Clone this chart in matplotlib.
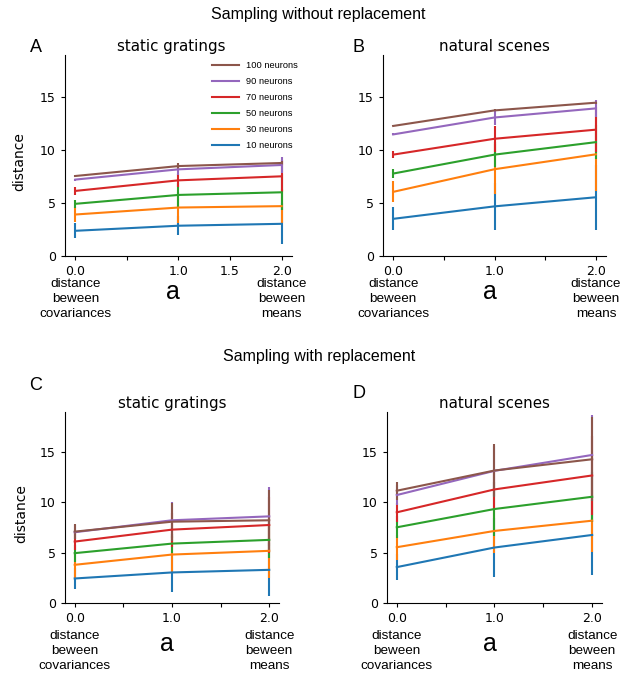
import matplotlib.pyplot as plt
from matplotlib.lines import Line2D

# a values
a_vals = [0.0, 1.0, 2.0]
labels = ['10 neurons', '30 neurons', '50 neurons', '70 neurons', '90 neurons', '100 neurons']
colors = ['C0', 'C1', 'C2', 'C3', 'C4', 'C5']

# sampling without replacement, static gratings
A_mean = [[2.38, 2.86, 3.04], [3.92, 4.58, 4.71], [4.93, 5.77, 6.02],
          [6.15, 7.15, 7.53], [7.22, 8.19, 8.60], [7.56, 8.50, 8.79]]
A_err = [[0.7, 0.9, 1.95], [0.7, 1.5, 1.6], [0.35, 1.1, 1.7],
         [0.4, 0.6, 1.5], [0.1, 0.5, 0.75], [0.1, 0.3, 0.2]]

# sampling without replacement, natural scenes
B_mean = [[3.51, 4.69, 5.55], [6.06, 8.20, 9.61], [7.79, 9.58, 10.76],
          [9.58, 11.08, 11.94], [11.49, 13.09, 13.95], [12.29, 13.76, 14.49]]
B_err = [[1.1, 2.2, 3.05], [1.0, 2.35, 3.5], [0.4, 1.2, 1.6],
         [0.3, 1.25, 2.1], [0.1, 0.7, 0.8], [0.05, 0.1, 0.1]]

# sampling with replacement, static gratings
C_mean = [[2.44, 3.04, 3.30], [3.80, 4.82, 5.19], [4.96, 5.91, 6.28],
          [6.11, 7.30, 7.76], [7.04, 8.23, 8.62], [7.10, 8.09, 8.23]]
C_err = [[1.05, 1.9, 2.65], [1.3, 1.85, 2.7], [0.85, 0.95, 1.8],
         [0.85, 1.7, 2.8], [0.7, 1.8, 2.9], [0.76, 1.9, 3.0]]

# sampling with replacement, natural scenes
D_mean = [[3.57, 5.52, 6.77], [5.55, 7.17, 8.19], [7.53, 9.35, 10.57],
          [9.02, 11.30, 12.69], [10.74, 13.15, 14.73], [11.17, 13.18, 14.30]]
D_err = [[1.3, 2.9, 4.0], [1.25, 2.2, 3.1], [1.1, 2.7, 2.5],
         [0.95, 1.9, 3.9], [1.0, 2.5, 4.0], [0.9, 2.65, 4.2]]

sans = 'Liberation Sans'
H = 677.0

fig = plt.figure(figsize=(6.23, 6.77), dpi=100)

axA = fig.add_axes([0.1043, 0.6219, 0.3644, 0.2969])
axB = fig.add_axes([0.6148, 0.6219, 0.3580, 0.2969])
axC = fig.add_axes([0.1043, 0.1093, 0.3435, 0.2821])
axD = fig.add_axes([0.6212, 0.1093, 0.3450, 0.2821])


def draw(ax, mean, err, title, ylabel, lab15, off, title_x=0.5):
    for i in range(len(mean)):
        ax.errorbar(a_vals, mean[i], yerr=err[i], color=colors[i], lw=1.5,
                    elinewidth=1.5, capsize=0)
    ax.set_xlim(-0.1, 2.1)
    ax.set_ylim(0, 19)
    ax.set_yticks([0, 5, 10, 15])
    ax.set_xticks([0, 0.5, 1, 1.5, 2])
    ax.set_xticklabels(['0.0', '', '1.0', '1.5' if lab15 else '', '2.0'])
    ax.tick_params(labelsize=9, length=3)
    ax.spines['top'].set_visible(False)
    ax.spines['right'].set_visible(False)
    ax.set_title(title, fontsize=10.8, pad=3, x=title_x)
    if ylabel:
        ax.set_ylabel('distance', fontsize=10)
        ax.yaxis.set_label_coords(-0.17, 0.47)
    tr = ax.get_xaxis_transform()
    ax.annotate('distance\nbeween\ncovariances', xy=(0, 0), xycoords=tr,
                xytext=(0, -off - 1), textcoords='offset pixels',
                ha='center', va='center', fontsize=9.7, family=sans, linespacing=1.32)
    ax.annotate('distance\nbeween\nmeans', xy=(2, 0), xycoords=tr,
                xytext=(0, -off - 1), textcoords='offset pixels',
                ha='center', va='center', fontsize=9.7, family=sans, linespacing=1.32)
    ax.annotate('a', xy=(0.95, 0), xycoords=tr, xytext=(0, -off + 6),
                textcoords='offset pixels', ha='center', va='center',
                fontsize=18, family=sans)


draw(axA, A_mean, A_err, 'static gratings', True, True, 42, title_x=0.47)
draw(axB, B_mean, B_err, 'natural scenes', False, False, 42)
draw(axC, C_mean, C_err, 'static gratings', True, False, 47)
draw(axD, D_mean, D_err, 'natural scenes', False, False, 47)

handles = [Line2D([], [], color=c, lw=1.5) for c in colors]
axA.legend(handles[::-1], labels[::-1], loc='upper left', bbox_to_anchor=(0.61, 1.01),
           frameon=False, prop={'family': sans, 'size': 6.7}, handlelength=2.9,
           labelspacing=0.75)

# panel letters
fig.text(36 / 623, 1 - 47 / H, 'A', ha='center', va='center', fontsize=13, family=sans)
fig.text(359 / 623, 1 - 47 / H, 'B', ha='center', va='center', fontsize=13, family=sans)
fig.text(36 / 623, 1 - 385 / H, 'C', ha='center', va='center', fontsize=13, family=sans)
fig.text(359 / 623, 1 - 393 / H, 'D', ha='center', va='center', fontsize=13, family=sans)

fig.text(318 / 623, 1 - 14 / H, 'Sampling without replacement', ha='center', va='center',
         fontsize=11.5, family=sans)
fig.text(319 / 623, 1 - 357 / H, 'Sampling with replacement', ha='center', va='center',
         fontsize=11.5, family=sans)

fig.savefig('out.png', dpi=100)
